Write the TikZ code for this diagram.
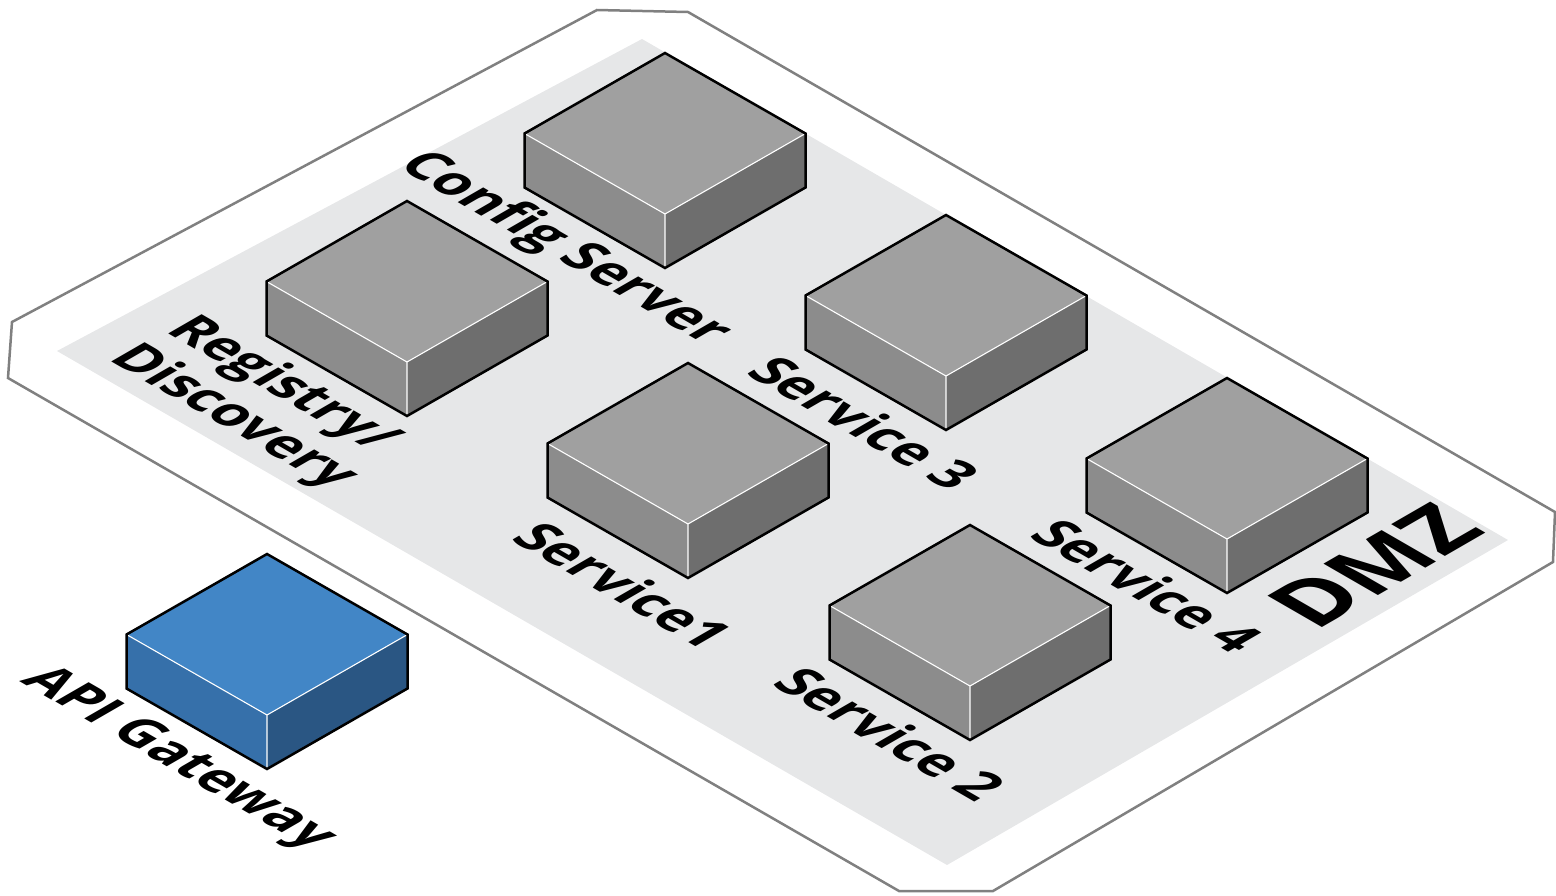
\documentclass[tikz,border=0pt]{standalone}
\usepackage{fontspec}
\setmainfont{Open Sans}
\definecolor{floor}{HTML}{E6E7E8}
\definecolor{rim}{HTML}{808080}
\definecolor{gtop}{HTML}{A0A0A0}
\definecolor{gleft}{HTML}{8C8C8C}
\definecolor{gright}{HTML}{6E6E6E}
\definecolor{btop}{HTML}{4286C6}
\definecolor{bleft}{HTML}{3670AA}
\definecolor{bright}{HTML}{2A5683}
\newcommand\isobox[4]{%
  \begin{scope}[shift={(#1)}]
    \fill[#2] (0,0) -- (-140.5,80.5) -- (0,161) -- (140.5,80.5) -- cycle;
    \fill[#3] (-140.5,80.5) -- (0,161) -- (0,215) -- (-140.5,134.5) -- cycle;
    \fill[#4] (0,161) -- (140.5,80.5) -- (140.5,134.5) -- (0,215) -- cycle;
    \draw[edge] (-140.5,80.5) -- (0,161) -- (140.5,80.5) (0,161) -- (0,215);
    \draw[outline] (0,0) -- (-140.5,80.5) -- (-140.5,134.5) -- (0,215) -- (140.5,134.5) -- (140.5,80.5) -- cycle;
  \end{scope}}
\tikzset{
  edge/.style={white, line width=1.1pt},
  outline/.style={black, line width=2.5pt, line join=miter},
  lbl/.style={font=\fontsize{54}{64}\selectfont\bfseries, anchor=base west, inner sep=0pt, transform shape},
  floorlbl/.style={cm={0.866,-0.5,0.866,0.5,(0,0)}},
  dmzlbl/.style={cm={0.866,0.5,-0.866,0.5,(0,0)}},
}
\begin{document}
\begin{tikzpicture}[x=1pt,y=-1pt]
\useasboundingbox (0,0) rectangle (1556,895);
% outer rim and floor
\draw[rim, line width=2.5pt, line join=miter]
  (12,322) -- (597,10) -- (688,12) -- (1555,512) -- (1553,562) -- (993,891) -- (899,891) -- (8,378) -- cycle;
\fill[floor] (57,351) -- (642,39) -- (1508,540) -- (947,865) -- cycle;
% box positions (top vertex)
\coordinate (cfgbox) at (665,53);
\coordinate (regbox) at (407,201);
\coordinate (s3box) at (946,215);
\coordinate (s1box) at (688,363);
\coordinate (s4box) at (1227,378);
\coordinate (s2box) at (970,525);
\coordinate (apibox) at (267,554);
\isobox{cfgbox}{gtop}{gleft}{gright}
\isobox{regbox}{gtop}{gleft}{gright}
\isobox{s3box}{gtop}{gleft}{gright}
\isobox{s1box}{gtop}{gleft}{gright}
\isobox{s4box}{gtop}{gleft}{gright}
\isobox{s2box}{gtop}{gleft}{gright}
\isobox{apibox}{btop}{bleft}{bright}
% labels
\node[lbl, shift={(396,166)}, floorlbl] (cfg) at (0,0) {Config Server};
\node[lbl, shift={(164,331)}, floorlbl] (reg) at (0,0) {Registry/};
\node[lbl, shift={(107,359)}, floorlbl] (disc) at (0,0) {Discovery};
\node[lbl, shift={(744,373)}, floorlbl] (s3) at (0,0) {Service 3};
\node[lbl, shift={(509,539)}, floorlbl] (s1) at (0,0) {Service1};
\node[lbl, shift={(1027,536)}, floorlbl] (s4) at (0,0) {Service 4};
\node[lbl, shift={(770,684)}, floorlbl] (s2) at (0,0) {Service 2};
\node[lbl, shift={(19,681)}, floorlbl] (api) at (0,0) {API Gateway};
\node[lbl, font=\fontsize{88}{100}\selectfont\bfseries, shift={(1315,632)}, dmzlbl] (dmz) at (0,0) {DMZ};
\end{tikzpicture}
\end{document}
